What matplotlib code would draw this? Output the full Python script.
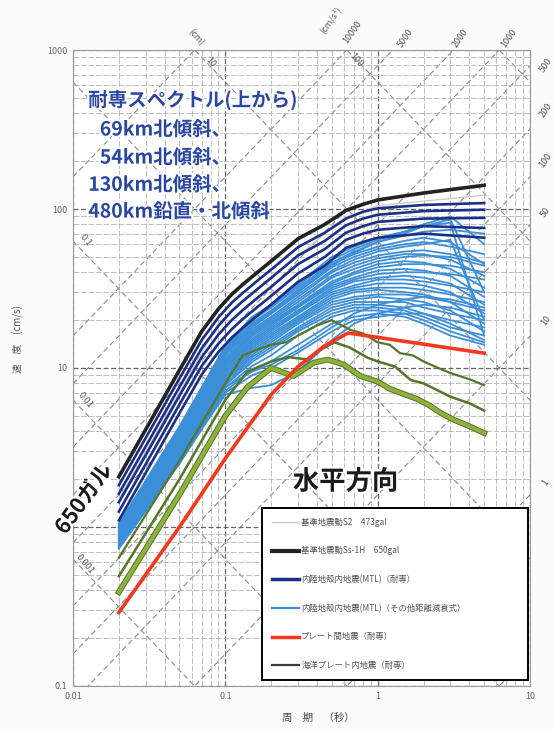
import numpy as np
import matplotlib
matplotlib.use("Agg")
import matplotlib.pyplot as plt
import matplotlib.patheffects as pe
from matplotlib.lines import Line2D
from matplotlib.ticker import LogLocator, NullFormatter

plt.rcParams['font.family'] = ['Noto Sans CJK JP', 'DejaVu Sans']

# 基準地震動 Ss-1H (650gal)
ss_T = [0.02, 0.05, 0.07, 0.09, 0.11, 0.13, 0.16, 0.2, 0.3, 0.45, 0.62,
        0.8, 1.0, 2.0, 5.0]
ss_V = [2.07, 9.7, 17, 23.5, 29, 33.5, 39.5, 47, 65, 80, 98,
        107, 114, 126, 141]

# 基準地震動 S2 (473gal)
s2_T = [0.02, 0.09, 0.13, 0.6, 1.0, 5.0]
s2_V = [1.5, 19, 26, 88, 105, 122]

# 内陸地殻内地震(MTL) 耐専スペクトル
tai_T = [0.02, 0.05, 0.07, 0.09, 0.11, 0.13, 0.16, 0.2, 0.3, 0.45, 0.62,
         0.8, 1.0, 2.0, 5.0]
tai_V = [
    [1.83, 8.6, 15.0, 20.8, 25.7, 29.6, 35.0, 41.6, 57.5, 71, 87, 96, 101, 106, 109],
    [1.62, 7.6, 13.3, 18.4, 22.8, 26.3, 31.0, 36.9, 51.0, 63, 79, 87, 92, 97, 99],
    [1.43, 6.7, 11.7, 16.2, 20.0, 23.1, 27.3, 32.4, 45.0, 56, 71, 78, 83, 87, 88],
    [1.25, 5.9, 10.3, 14.2, 17.5, 20.3, 23.9, 28.4, 39.3, 50, 64, 70, 74, 78, 76],
    [1.10, 5.2, 9.1, 12.6, 15.5, 17.9, 21.1, 25.1, 34.8, 44, 57, 62, 66, 70, 66],
]

# 内陸地殻内地震(MTL) その他距離減衰式
oth_T = [0.02, 0.05, 0.1, 0.15, 0.2, 0.3, 0.5, 0.7, 1.0, 1.5, 2.0, 3.0, 5.0]
oth_V = [
    [1.05, 4.3, 13.8, 21.0, 25.0, 34.0, 50, 58, 66, 72, 78, 86, 30],
    [1.03, 4.2, 13.5, 20.5, 24.5, 33.0, 48, 56, 64, 72, 80, 90, 60],
    [1.02, 4.1, 13.2, 20.0, 24.0, 32.0, 46, 54, 62, 68, 72, 74, 70],
    [1.00, 4.0, 12.9, 19.3, 23.0, 31.0, 45, 52, 58, 63, 66, 62, 45],
    [0.99, 3.9, 12.6, 18.8, 22.5, 30.0, 43, 50, 56, 60, 62, 58, 52],
    [0.97, 3.8, 12.3, 18.3, 22.0, 29.0, 41, 48, 54, 58, 60, 64, 20],
    [0.96, 3.7, 12.0, 17.5, 21.0, 28.0, 40, 46, 51, 54, 55, 52, 46],
    [0.94, 3.6, 11.6, 17.0, 20.5, 27.0, 38, 44, 49, 52, 52, 48, 38],
    [0.93, 3.5, 11.3, 16.6, 20.0, 26.0, 37, 42, 47, 50, 51, 50, 44],
    [0.92, 3.45, 11.0, 16.2, 19.5, 25.0, 35, 40, 45, 47, 46, 42, 32],
    [0.90, 3.4, 10.7, 15.8, 19.0, 24.5, 34, 39, 43, 45, 45, 44, 40],
    [0.89, 3.3, 10.4, 15.3, 18.5, 24.0, 33, 37, 41, 42, 41, 38, 28],
    [0.88, 3.25, 10.1, 14.9, 18.0, 23.0, 32, 36, 39, 40, 40, 39, 36],
    [0.87, 3.2, 9.9, 14.5, 17.5, 22.5, 31, 35, 37, 38, 37, 34, 25],
    [0.85, 3.1, 9.6, 14.1, 17.0, 22.0, 30, 33, 36, 36, 35, 33, 30],
    [0.84, 3.05, 9.4, 13.7, 16.5, 21.0, 29, 32, 34, 34, 33, 30, 22],
    [0.83, 3.0, 9.1, 13.3, 16.0, 20.5, 28, 31, 32, 32, 31, 29, 26],
    [0.82, 2.95, 8.9, 12.9, 15.5, 20.0, 27, 30, 31, 30, 29, 26, 19],
    [0.80, 2.9, 8.7, 12.5, 15.0, 19.5, 26, 28, 29, 29, 28, 26, 23],
    [0.79, 2.85, 8.5, 12.1, 14.5, 19.0, 25, 27, 28, 27, 26, 23, 17],
    [0.78, 2.8, 8.3, 11.7, 14.0, 18.0, 24, 26, 26, 26, 24, 22, 20],
    [0.77, 2.7, 8.0, 11.3, 13.5, 17.5, 23, 25, 25, 24, 22, 19, 15],
    [0.76, 2.65, 7.8, 10.9, 13.0, 17.0, 22, 24, 24, 23, 21, 18, 16],
    [0.75, 2.6, 7.5, 10.3, 12.0, 16.0, 21, 23, 23, 22, 20, 17, 14.5],
    [0.74, 2.55, 7.2, 9.6, 11.0, 14.0, 19, 21, 22, 21, 19, 16, 14],
    [0.73, 2.5, 7.0, 9.0, 10.0, 12.5, 17, 20, 21, 22, 22, 20, 18],
    [0.80, 2.8, 7.6, 9.5, 10.5, 13.0, 18, 22, 25, 27, 28, 27, 24],
    [1.00, 3.9, 12.3, 18.0, 22.0, 30.0, 44, 53, 62, 70, 78, 82, 16],
    [0.76, 2.6, 6.8, 7.5, 7.8, 9.5, 15, 19, 22, 24, 25, 24, 21],
]

# プレート間地震(耐専)
plate_T = [0.02, 0.05, 0.1, 0.2, 0.3, 0.45, 0.64, 5.0]
plate_V = [0.29, 1.0, 2.7, 6.8, 10.2, 13.8, 16.6, 12.4]

# 海洋プレート内地震(耐専)
ocean1_T = [0.02, 0.05, 0.1, 0.13, 0.16, 0.2, 0.25, 0.3, 0.4, 0.5, 0.66, 0.8,
            1.0, 1.2, 1.4, 1.7, 2.0, 2.5, 3.0, 4.0, 5.0]
ocean1_V = [0.64, 2.6, 8.0, 12, 13, 14, 14.5, 16, 18.5, 20, 17.4, 16.5,
            14.5, 14, 12.4, 12, 11, 10, 9.3, 8.5, 7.8]
ocean2_T = [0.02, 0.05, 0.1, 0.14, 0.2, 0.26, 0.35, 0.42, 0.52, 0.65, 0.86,
            1.0, 1.3, 1.65, 2.0, 2.5, 3.0, 4.0, 5.0]
ocean2_V = [0.49, 2.0, 6.3, 9.5, 11, 11.7, 11.3, 13, 14.5, 13.5, 11.6,
            11, 10.2, 8.4, 8.0, 7.2, 6.6, 6.0, 5.4]
ocean3_T = [0.02, 0.05, 0.1, 0.14, 0.2, 0.28, 0.38, 0.47, 0.6, 0.77, 1.0,
            1.2, 1.4, 1.8, 2.2, 2.6, 3.2, 4.0, 5.0]
ocean3_V = [0.39, 1.6, 5.0, 7.6, 10, 8.9, 10.8, 11.3, 10.5, 8.9, 8.2,
            7.4, 7.0, 6.4, 5.8, 5.2, 4.7, 4.3, 3.9]

# 三軸グラフの斜線 (変位 cm / 加速度 cm/s2)
disp_lines = [1e-4, 1e-3, 1e-2, 0.1, 1, 10, 100, 1000]
acc_lines = [0.1, 1, 10, 50, 100, 200, 500, 1000, 2000, 5000, 10000, 1e5]

legend_labels = [
    "基準地震動S2　473gal",
    "基準地震動Ss-1H　650gal",
    "内陸地殻内地震(MTL)（耐専）",
    "内陸地殻内地震(MTL)（その他距離減衰式）",
    "プレート間地震（耐専）",
    "海洋プレート内地震（耐専）",
]

c_black = "#222222"
c_navy = "#1c2f86"
c_blue = "#3b8fd9"
c_red = "#f2391f"
c_olive = "#55752a"
c_yg = "#8db23a"

fig = plt.figure(figsize=(5.53, 7.29), dpi=100, facecolor="#fbfbfb")
ax = fig.add_axes([0.132, 0.059, 0.8264, 0.8724])
ax.set_xscale("log")
ax.set_yscale("log")
ax.set_xlim(0.01, 10)
ax.set_ylim(0.1, 1000)

# グリッド
ax.xaxis.set_minor_locator(LogLocator(base=10, subs=np.arange(2, 10)))
ax.yaxis.set_minor_locator(LogLocator(base=10, subs=np.arange(2, 10)))
ax.xaxis.set_minor_formatter(NullFormatter())
ax.yaxis.set_minor_formatter(NullFormatter())
ax.grid(which="minor", color="#b4b4b4", lw=0.6, ls=(0, (7, 2)), zorder=0)
ax.grid(which="major", color="#666666", lw=0.9, ls=(0, (4, 2)), zorder=0)
ax.set_axisbelow(True)

# 斜線
tt = np.array([0.01, 10.0])
for d in disp_lines:
    ax.plot(tt, 2 * np.pi * d / tt, color="#8a8a8a", lw=0.8,
            ls=(0, (5, 3)), zorder=0.5)
for a in acc_lines:
    ax.plot(tt, a * tt / (2 * np.pi), color="#8a8a8a", lw=0.8,
            ls=(0, (5, 3)), zorder=0.5)

# スペクトル
ax.plot(s2_T, s2_V, color="#c8c8c8", lw=0.9, zorder=1)
for v in oth_V:
    ax.plot(oth_T, v, color=c_blue, lw=1.3, zorder=2)
for v in tai_V:
    ax.plot(tai_T, v, color=c_navy, lw=1.9, zorder=3)
ax.plot(ss_T, ss_V, color=c_black, lw=2.6, zorder=3.5)
ax.plot(ocean1_T, ocean1_V, color=c_olive, lw=1.6, zorder=4)
ax.plot(ocean2_T, ocean2_V, color=c_olive, lw=1.8, zorder=4)
ax.plot(ocean3_T, ocean3_V, color=c_olive, lw=4.2, zorder=4)
ax.plot(ocean3_T, ocean3_V, color=c_yg, lw=2.8, zorder=4.1)
ax.plot(plate_T, plate_V, color=c_red, lw=2.6, zorder=4.5)

# 軸目盛
ax.set_xticks([0.01, 0.1, 1, 10])
ax.set_xticklabels(["0.01", "0.1", "1", "10"])
ax.set_yticks([0.1, 1, 10, 100, 1000])
ax.set_yticklabels(["0.1", "1", "10", "100", "1000"])
ax.tick_params(which="both", length=0, labelsize=6.5, labelcolor="#666666",
               pad=4)
for s in ax.spines.values():
    s.set_color("#999999")
    s.set_linewidth(0.8)

fig.text(0.034, 0.535, "速　度　(cm/s)", rotation=90, ha="center",
         va="center", fontsize=7, color="#555555")
fig.text(0.575, 0.015, "周　期　（秒）", ha="center", va="center",
         fontsize=7.5, color="#444444")

# 斜線のラベル
lab = dict(fontsize=6.5, color="#555555", ha="center", va="center",
           clip_on=False)
for txt, x, y in [("(cm)", 0.0635, 1190), ("10", 0.0796, 840),
                  ("100", 0.72, 865), ("0.1", 0.012, 63.7),
                  ("0.01", 0.012, 6.3), ("0.001", 0.012, 0.58)]:
    ax.text(x, y, txt, rotation=-50, **lab)
for txt, x, y in [("(cm/s²)", 0.49, 1544), ("10000", 0.68, 1297),
                  ("5000", 1.53, 1190), ("2000", 3.52, 1190),
                  ("1000", 7.27, 1190), ("500", 12.7, 805),
                  ("200", 12.7, 420), ("100", 12.7, 203),
                  ("50", 12.7, 95.7), ("10", 12.7, 20), ("1", 12.7, 1.9)]:
    ax.text(x, y, txt, rotation=55, **lab)

# 注記
glow = [pe.withStroke(linewidth=3, foreground="white")]
title_lines = [("耐専スペクトル(上から)", 0.0126, 485),
               ("69km北傾斜、", 0.0150, 314),
               ("54km北傾斜、", 0.0150, 209),
               ("130km北傾斜、", 0.0126, 141),
               ("480km鉛直・北傾斜", 0.0126, 95.7)]
for txt, x, y in title_lines:
    ax.text(x, y, txt, fontsize=14, fontweight="bold", color="#2a47a3",
            ha="left", va="center", path_effects=glow, zorder=6)

ax.text(0.615, 1.92, "水平方向", fontsize=19, fontweight="bold",
        color="#1a1a1a", ha="center", va="center", path_effects=glow,
        zorder=6)
ax.text(0.0118, 1.50, "650ガル", fontsize=15.5, fontweight="bold",
        color="#1a1a1a", ha="center", va="center", rotation=54,
        path_effects=glow, zorder=6, clip_on=False)

# 凡例
handles = [
    Line2D([], [], color="#c8c8c8", lw=1.0),
    Line2D([], [], color=c_black, lw=3.0),
    Line2D([], [], color=c_navy, lw=2.5),
    Line2D([], [], color=c_blue, lw=1.6),
    Line2D([], [], color=c_red, lw=2.5),
    Line2D([], [], color="#3a3a3a", lw=1.6),
]
leg = ax.legend(handles, legend_labels, loc="lower left",
                bbox_to_anchor=(0.414, 0.0094, 0.582, 0.27), mode="expand",
                borderaxespad=0, fontsize=6, labelspacing=2.35,
                handlelength=3.2, handletextpad=0.3, borderpad=1.2,
                fancybox=False, framealpha=1, edgecolor="black",
                labelcolor="#555555")
leg.get_frame().set_linewidth(1.4)
leg.set_zorder(8)

fig.savefig("out.png", dpi=100, facecolor=fig.get_facecolor())
